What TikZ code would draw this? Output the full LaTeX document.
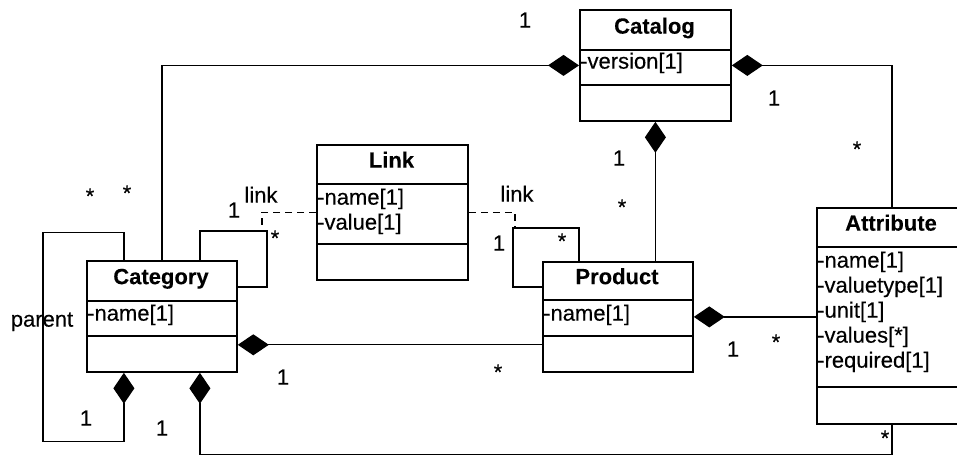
\documentclass[tikz,border=0pt]{standalone}
\usepackage{fontspec}
\setmainfont{Liberation Sans}[FakeBold=0.3, BoldFeatures={FakeBold=0.1}]
\usetikzlibrary{arrows.meta,calc}
\begin{document}
\begin{tikzpicture}[x=1pt,y=-1pt,
  every node/.style={font=\fontsize{22}{25}\selectfont, inner sep=0pt},
  classbox/.style={draw, line width=1.8pt, anchor=north west, inner sep=0pt},
  divider/.style={line width=1.8pt},
  classtitle/.style={font=\fontsize{22}{25}\selectfont\bfseries, anchor=mid},
  attr/.style={anchor=mid west},
  mult/.style={anchor=mid},
  assoc/.style={line width=1.2pt},
  comp/.style={{Diamond[length=31pt,width=21pt,fill=black]}-},
  linkdash/.style={line width=1.2pt, dash pattern=on 7pt off 5pt}
]
\useasboundingbox (0,0) rectangle (957,455);

% ---- classes ----
\node[classbox, minimum width=151pt, minimum height=111pt] (catalog) at (579,9) {};
\draw[divider] (579,50) -- (730,50);
\draw[divider] (579,85) -- (730,85);
\node[classtitle] (catalogT) at (654.5,31) {Catalog};
\node[attr] (catalogA1) at (580,66) {-version[1]};

\node[classbox, minimum width=151pt, minimum height=135pt] (link) at (316,144) {};
\draw[divider] (316,184) -- (467,184);
\draw[divider] (316,244) -- (467,244);
\node[classtitle] (linkT) at (391.5,165) {Link};
\node[attr] (linkA1) at (317,202) {-name[1]};
\node[attr] (linkA2) at (317,227) {-value[1]};

\node[classbox, minimum width=150pt, minimum height=111pt] (category) at (86,260) {};
\draw[divider] (86,301) -- (236,301);
\draw[divider] (86,336) -- (236,336);
\node[classtitle] (categoryT) at (161,281.5) {Category};
\node[attr] (categoryA1) at (87,318) {-name[1]};

\node[classbox, minimum width=150pt, minimum height=110pt] (product) at (542,261) {};
\draw[divider] (542,300) -- (692,300);
\draw[divider] (542,336) -- (692,336);
\node[classtitle] (productT) at (617,281.5) {Product};
\node[attr] (productA1) at (543,318) {-name[1]};

\node[classbox, minimum width=150pt, minimum height=216pt] (attribute) at (816,207) {};
\draw[divider] (816,247) -- (966,247);
\draw[divider] (816,387) -- (966,387);
\node[classtitle] (attributeT) at (891,228) {Attribute};
\node[attr] (attributeA1) at (817,265) {-name[1]};
\node[attr] (attributeA2) at (817,290) {-valuetype[1]};
\node[attr] (attributeA3) at (817,315) {-unit[1]};
\node[attr] (attributeA4) at (817,340) {-values[*]};
\node[attr] (attributeA5) at (817,365) {-required[1]};

% ---- attachment points ----
\coordinate (catR)  at ($(category.south east)+(0,-28)$);
\coordinate (catBL) at ($(category.south)+(-38,0)$);
\coordinate (catBR) at ($(category.south)+(38,0)$);
\coordinate (catTL) at ($(category.north)+(-38,0)$);
\coordinate (catTR) at ($(category.north)+(38,0)$);
\coordinate (catE)  at ($(category.north east)+(0,27)$);
\coordinate (catLoopTop) at ($(catTR)+(62,-29)$);
\coordinate (prodT) at ($(product.north west)+(37,0)$);
\coordinate (prodW) at ($(product.north west)+(0,26)$);
\coordinate (prodLoopTop) at ($(prodT)+(-64,-33)$);

% ---- compositions ----
\draw[assoc, comp] (catalog.west) -| (category.north);
\draw[assoc, comp] (catalog.east) -| (attribute.north);
\draw[assoc, comp] (catalog.south) -- (catalog.south |- product.north);
\draw[assoc, comp] (catR) -- (catR -| product.west);
\draw[assoc, comp] (product.east) -- (product.east -| attribute.west);
\draw[assoc, comp] (catBL) -- ++(0,69) -- ++(-81,0) -- ++(0,-209) -| (catTL);
\draw[assoc, comp] (catBR) -- ++(0,82) -| (attribute.south);

% ---- self associations with link class ----
\draw[assoc] (catTR) -- ++(0,-29) -- ++(67,0) |- (catE);
\draw[assoc] (prodT) -- ++(0,-33) -- ++(-66,0) |- (prodW);
\draw[linkdash] (link.west) -| (catLoopTop);
\draw[linkdash] (link.east) -| (prodLoopTop);

% ---- multiplicities and roles ----
\node[mult] (m1)  at (525,25)  {1};
\node[mult] (m2)  at (774,103) {1};
\node[mult] (m3)  at (857,154) {*};
\node[mult] (m4)  at (619,163) {1};
\node[mult] (m5)  at (622,212) {*};
\node[mult] (r1)  at (261,200) {link};
\node[mult] (m6)  at (234,215) {1};
\node[mult] (m7)  at (275,243) {*};
\node[mult] (m8)  at (90,201)  {*};
\node[mult] (m9)  at (127,198) {*};
\node[mult] (r2)  at (42,324)  {parent};
\node[mult] (m10) at (86,423)  {1};
\node[mult] (m11) at (162,433) {1};
\node[mult] (m12) at (283,382) {1};
\node[mult] (r3)  at (517,199) {link};
\node[mult] (m13) at (499,248) {1};
\node[mult] (m14) at (562,246) {*};
\node[mult] (m15) at (498,377) {*};
\node[mult] (m16) at (733,354) {1};
\node[mult] (m17) at (776,347) {*};
\node[mult] (m18) at (885,443) {*};
\end{tikzpicture}
\end{document}
